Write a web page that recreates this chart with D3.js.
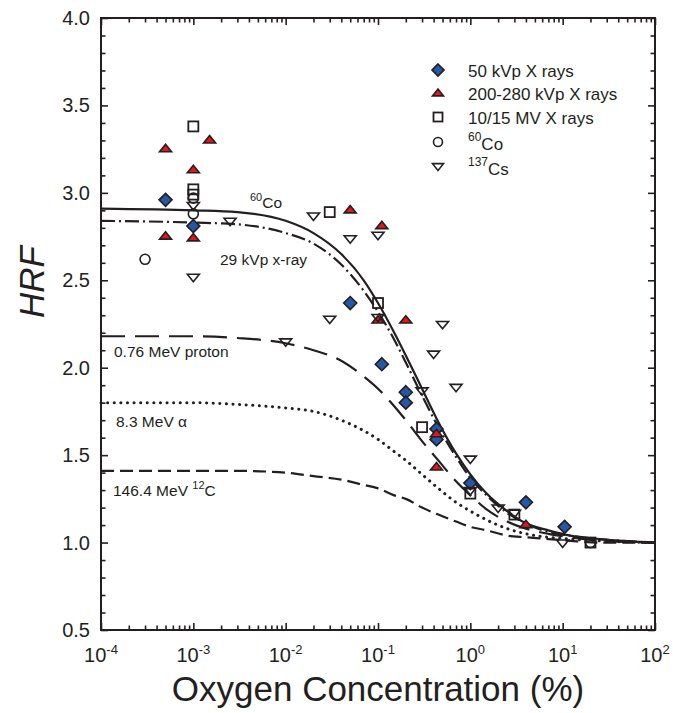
<!DOCTYPE html>
<html><head><meta charset="utf-8">
<script src="https://cdn.jsdelivr.net/npm/d3@7"></script>
<style>
body{margin:0;background:#fff;}
text{font-family:"Liberation Sans",Arial,Helvetica,sans-serif;fill:#231f20;}
</style></head><body>
<svg id="chart" width="673" height="713"></svg>
<script>
// ---- data ----
const kvp50X = [5e-4, 1e-3, 0.05, 0.11, 0.2, 0.2, 0.43, 0.43, 1.0, 4, 10.5];
const kvp50Y = [2.96, 2.81, 2.37, 2.02, 1.86, 1.80, 1.65, 1.59, 1.34, 1.23, 1.09];
const kvp200X = [5e-4, 5e-4, 1e-3, 1e-3, 1.5e-3, 0.05, 0.11, 0.1, 0.2, 0.43, 0.43, 4];
const kvp200Y = [3.25, 2.75, 3.13, 2.74, 3.30, 2.90, 2.81, 2.27, 2.27, 1.62, 1.43, 1.10];
const mvX = [1e-3, 1e-3, 1e-3, 0.03, 0.1, 0.3, 1.0, 3, 20];
const mvY = [3.38, 3.02, 2.99, 2.89, 2.37, 1.66, 1.28, 1.16, 1.00];
const coX = [3e-4, 1e-3, 1e-3, 20];
const coY = [2.62, 2.97, 2.88, 1.00];
const csX = [1e-3, 1e-3, 2.5e-3, 0.01, 0.02, 0.03, 0.05, 0.1, 0.1, 0.3, 0.4, 0.5, 0.7, 1.0, 1.0, 2.0, 3.0, 10];
const csY = [2.93, 2.52, 2.84, 2.15, 2.87, 2.28, 2.74, 2.76, 2.29, 1.87, 2.08, 2.25, 1.89, 1.48, 1.30, 1.20, 1.17, 1.00];

// curves
const curveX = [1e-4, 1e-3, 3e-3, 0.01, 0.02, 0.04, 0.07, 0.1, 0.15, 0.2, 0.3, 0.45, 0.7, 1, 1.5, 2.5, 4, 7, 12, 25, 100];
const co60Curve   = [2.91, 2.90, 2.89, 2.84, 2.77, 2.65, 2.50, 2.37, 2.20, 2.07, 1.88, 1.69, 1.51, 1.39, 1.28, 1.18, 1.11, 1.07, 1.04, 1.02, 1.00];
const kvp29Curve  = [2.84, 2.83, 2.82, 2.77, 2.71, 2.59, 2.44, 2.32, 2.16, 2.03, 1.84, 1.66, 1.49, 1.37, 1.27, 1.17, 1.11, 1.06, 1.04, 1.02, 1.00];
const protonCurve = [2.18, 2.18, 2.17, 2.14, 2.10, 2.04, 1.95, 1.88, 1.78, 1.70, 1.58, 1.47, 1.35, 1.27, 1.19, 1.12, 1.08, 1.05, 1.03, 1.01, 1.00];
const alphaCurve  = [1.80, 1.80, 1.79, 1.77, 1.75, 1.70, 1.64, 1.59, 1.52, 1.47, 1.39, 1.31, 1.23, 1.18, 1.13, 1.08, 1.05, 1.03, 1.02, 1.01, 1.00];
const carbonCurve = [1.41, 1.41, 1.41, 1.40, 1.38, 1.36, 1.33, 1.31, 1.27, 1.25, 1.20, 1.16, 1.12, 1.09, 1.07, 1.04, 1.03, 1.02, 1.01, 1.00, 1.00];

const xTickExps = [-4, -3, -2, -1, 0, 1, 2];
const yTickLabels = ["0.5", "1.0", "1.5", "2.0", "2.5", "3.0", "3.5", "4.0"];

// ---- chart ----
const svg = d3.select("#chart");
const L = 101, R = 655, T = 18, B = 630;
const x = d3.scaleLog().domain([1e-4, 100]).range([L, R]);
const y = d3.scaleLinear().domain([0.5, 4]).range([B, T]);
const ink = "#231f20";

// curves
const line = d3.line().x(d => x(d[0])).y(d => y(d[1])).curve(d3.curveMonotoneX);
const curves = [
  {v: co60Curve, dash: null},
  {v: kvp29Curve, dash: "14,4,2,4"},
  {v: protonCurve, dash: "24,10"},
  {v: alphaCurve, dash: "0.1,6.5"},
  {v: carbonCurve, dash: "13,6"}
];
curves.forEach(c => {
  const p = svg.append("path").datum(curveX.map((cx, i) => [cx, c.v[i]]))
    .attr("d", line).attr("fill", "none").attr("stroke", ink)
    .attr("stroke-width", c.dash && c.dash.startsWith("0.1") ? 3 : 2.2);
  if (c.dash) p.attr("stroke-dasharray", c.dash);
  if (c.dash && c.dash.startsWith("0.1")) p.attr("stroke-linecap", "round");
});

// axes (ticks inside)
const majors = xTickExps.map(e => Math.pow(10, e));
const minors = [];
for (let e = -4; e < 2; e++) for (let k = 2; k <= 9; k++) minors.push(k * Math.pow(10, e));
const yMajors = d3.range(0.5, 4.01, 0.5);
const yMinors = d3.range(0.5, 4.001, 0.1).filter(v => Math.abs(v * 2 - Math.round(v * 2)) > 1e-6);

function styleAxis(g) {
  g.select(".domain").remove();
  g.selectAll("line").attr("stroke", ink).attr("stroke-width", 1.6);
}
svg.append("g").attr("transform", `translate(0,${B})`).call(d3.axisBottom(x).tickValues(majors).tickSize(-7).tickFormat("")).call(styleAxis);
svg.append("g").attr("transform", `translate(0,${B})`).call(d3.axisBottom(x).tickValues(minors).tickSize(-4.5).tickFormat("")).call(styleAxis);
svg.append("g").attr("transform", `translate(0,${T})`).call(d3.axisTop(x).tickValues(majors).tickSize(-7).tickFormat("")).call(styleAxis);
svg.append("g").attr("transform", `translate(0,${T})`).call(d3.axisTop(x).tickValues(minors).tickSize(-4.5).tickFormat("")).call(styleAxis);
svg.append("g").attr("transform", `translate(${L},0)`).call(d3.axisLeft(y).tickValues(yMajors).tickSize(-7).tickFormat("")).call(styleAxis);
svg.append("g").attr("transform", `translate(${L},0)`).call(d3.axisLeft(y).tickValues(yMinors).tickSize(-4.5).tickFormat("")).call(styleAxis);
svg.append("g").attr("transform", `translate(${R},0)`).call(d3.axisRight(y).tickValues(yMajors).tickSize(-7).tickFormat("")).call(styleAxis);
svg.append("g").attr("transform", `translate(${R},0)`).call(d3.axisRight(y).tickValues(yMinors).tickSize(-4.5).tickFormat("")).call(styleAxis);
svg.append("rect").attr("x", L).attr("y", T).attr("width", R - L).attr("height", B - T)
  .attr("fill", "none").attr("stroke", ink).attr("stroke-width", 2);

// tick labels
yTickLabels.forEach(t => {
  svg.append("text").attr("x", L - 11).attr("y", y(+t)).attr("dy", "0.35em")
    .attr("text-anchor", "end").attr("font-size", 20).text(t);
});
xTickExps.forEach(e => {
  const t = svg.append("text").attr("x", x(Math.pow(10, e))).attr("y", B + 32)
    .attr("text-anchor", "middle").attr("font-size", 20);
  t.append("tspan").text("10");
  t.append("tspan").attr("font-size", 13).attr("dy", -8).text(e);
});

// axis titles
svg.append("text").attr("x", 378).attr("y", 701).attr("text-anchor", "middle")
  .attr("font-size", 35).text("Oxygen Concentration (%)");
svg.append("text").attr("transform", "translate(44,282) rotate(-90)").attr("text-anchor", "middle")
  .attr("font-size", 35).attr("font-style", "italic").text("HRF");

// markers
const blue = "#2457a6", red = "#e8141b";
function diamond(g, cx, cy, s, fill) {
  g.append("path").attr("d", `M${cx},${cy - s}L${cx + s},${cy}L${cx},${cy + s}L${cx - s},${cy}Z`)
    .attr("fill", fill).attr("stroke", ink).attr("stroke-width", 1.6);
}
function tri(g, cx, cy, s, fill, down) {
  const h = s * 0.95;
  const d = down
    ? `M${cx - s},${cy - h * 0.45}L${cx + s},${cy - h * 0.45}L${cx},${cy + h * 0.85}Z`
    : `M${cx - s},${cy + h * 0.45}L${cx + s},${cy + h * 0.45}L${cx},${cy - h * 0.85}Z`;
  g.append("path").attr("d", d).attr("fill", fill).attr("stroke", ink).attr("stroke-width", 1.6).attr("stroke-linejoin", "miter");
}
function square(g, cx, cy, s) {
  g.append("rect").attr("x", cx - s).attr("y", cy - s).attr("width", 2 * s).attr("height", 2 * s)
    .attr("fill", "none").attr("stroke", ink).attr("stroke-width", 1.8);
}
function circle(g, cx, cy, r) {
  g.append("circle").attr("cx", cx).attr("cy", cy).attr("r", r)
    .attr("fill", "none").attr("stroke", ink).attr("stroke-width", 1.6);
}
const gm = svg.append("g");
kvp50X.forEach((v, i) => diamond(gm, x(v), y(kvp50Y[i]), 6.5, blue));
kvp200X.forEach((v, i) => tri(gm, x(v), y(kvp200Y[i]), 6, red, false));
mvX.forEach((v, i) => square(gm, x(v), y(mvY[i]), 5));
coX.forEach((v, i) => circle(gm, x(v), y(coY[i]), 5));
csX.forEach((v, i) => tri(gm, x(v), y(csY[i]), 6, "none", true));

// legend
const lg = svg.append("g");
const legX = 438, legTX = 468;
const legRows = [70, 93.5, 117, 142, 166];
const legBase = [76.5, 100, 123.5, 150, 175];
diamond(lg, legX, legRows[0], 6, blue);
tri(lg, legX, legRows[1], 5.5, red, false);
square(lg, legX, legRows[2], 4.5);
circle(lg, legX, legRows[3], 4.5);
tri(lg, legX, legRows[4], 5.5, "none", true);
const legText = [["", "50 kVp X rays"], ["", "200-280 kVp X rays"], ["", "10/15 MV X rays"], ["60", "Co"], ["137", "Cs"]];
legText.forEach((d, i) => {
  const t = lg.append("text").attr("x", legTX).attr("y", legBase[i]).attr("font-size", 17);
  if (d[0]) {
    t.append("tspan").attr("font-size", 12).attr("dy", -9).text(d[0]);
    t.append("tspan").attr("dy", 9).text(d[1]);
  } else t.text(d[1]);
});

// curve labels
function label(xp, yp, sup, main, before) {
  const t = svg.append("text").attr("x", xp).attr("y", yp).attr("font-size", 15.5);
  if (before) t.append("tspan").text(before);
  if (sup) {
    t.append("tspan").attr("font-size", 11).attr("dy", -7).text(sup);
    t.append("tspan").attr("dy", 7).text(main);
  } else t.append("tspan").text(main);
}
label(250, 208, "60", "Co");
label(220, 265, null, "29 kVp x-ray");
label(114, 357, null, "0.76 MeV proton");
label(116, 427, null, "8.3 MeV α");
label(113, 496, "12", "C", "146.4 MeV ");
</script>
</body></html>
